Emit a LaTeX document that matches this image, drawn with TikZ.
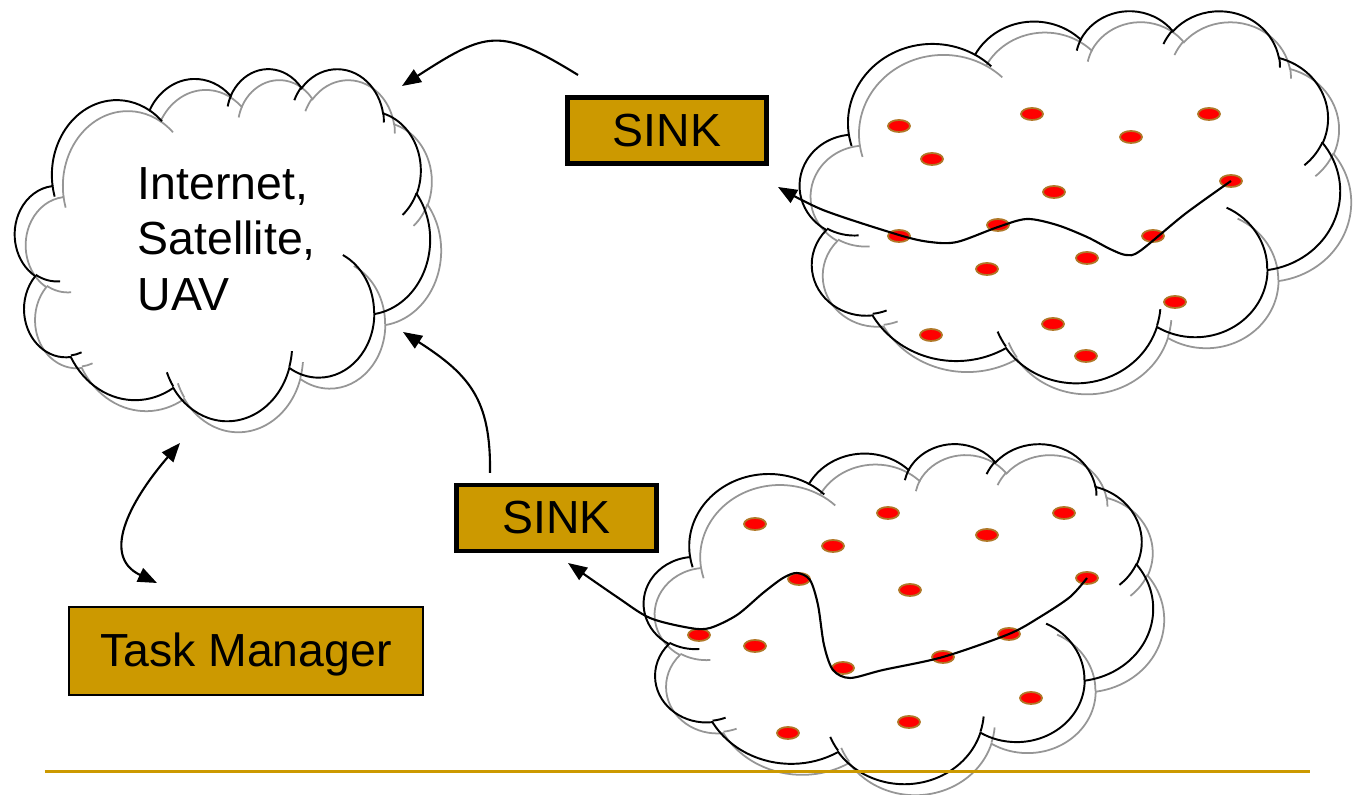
\documentclass[tikz,border=0pt]{standalone}
\usepackage{fontspec}
\setmainfont{Liberation Sans}
\usetikzlibrary{arrows.meta,shapes.geometric}

\definecolor{sinkgold}{RGB}{204,153,0}
\definecolor{shadowgrey}{RGB}{150,150,150}
\definecolor{dotrim}{RGB}{176,120,40}

\newcommand\labelfont{\fontsize{13.2}{15.8}\selectfont}

% visual ellipse angles -> parametric start angle and sweep
\newcommand\cloudangles{%
  \pgfmathparse{atan2(\rw*sin(\st),\rh*cos(\st))}\global\let\cldst\pgfmathresult
  \pgfmathparse{mod(atan2(\rw*sin(\st+\sw),\rh*cos(\st+\sw))-\cldst+720,360)}%
  \global\let\cldsw\pgfmathresult}

% cloud outline in a 432 x 432 box, y pointing down
\newcommand\cloudpath[1]{%
  \draw[#1] (39,143.7)
    \foreach \rw/\rh/\st/\sw in {67.53/91.90/-190.4875/123.7805,
        53.33/72.67/-144.1024/89.9452, 43.65/59.45/-145.8079/99.7230,
        48.57/65.95/-130.9861/117.2417, 53.33/72.73/-78.7089/109.0269,
        67.75/92.20/-46.2673/130.2690, 57.85/78.67/0.6250/114.0333,
        67.52/92.15/22.4516/115.1726, 77.20/105.43/66.2426/75.7110,
        43.60/59.18/-274.9421/146.7356, 43.45/59.45/-246.8285/152.5189}{
      \pgfextra{\cloudangles}
      arc[x radius=\rw, y radius=\rh, start angle=\cldst, delta angle=\cldsw]
    } -- cycle;
  % inner lobe edges
  \draw[#1]
    \foreach \px/\py/\rw/\rh/\st/\sw in {46.93/261.77/43.45/59.45/86.742/26.4295,
        69.28/348.99/43.60/59.18/73.6105/11.4475,
        164.78/390.90/67.52/92.15/137.6242/14.0811,
        288.27/347.51/67.52/92.15/6.4533/15.9984,
        341.29/229.54/57.85/78.67/-70.2924/70.9174,
        417.98/153.54/53.33/72.73/30.318/27.7515,
        383.24/54.26/48.57/65.95/-13.7443/14.8589,
        290.78/39.52/48.57/65.95/-149.1815/18.1954,
        221.41/47.20/43.65/59.45/-163.4943/17.6864,
        140.00/51.92/67.53/91.90/-66.707/12.3194,
        41.27/157.89/67.53/91.90/157.6544/11.8582}{
      (\px,\py) \pgfextra{\cloudangles}
      arc[x radius=\rw, y radius=\rh, start angle=\cldst, delta angle=\cldsw]
    };
}

% #1,#2 = top left corner, #3 x #4 = size
\newcommand\drawcloud[4]{%
  \begin{scope}[shift={(#1+11,#2+11)},xscale=#3/432,yscale=#4/432]
    \cloudpath{shadowgrey,line width=0.5pt}
  \end{scope}
  \begin{scope}[shift={(#1,#2)},xscale=#3/432,yscale=#4/432]
    \cloudpath{black,line width=0.55pt}
  \end{scope}}

\begin{document}
\begin{tikzpicture}[x=0.01cm,y=-0.01cm,font=\labelfont,
    >={Triangle[length=5.4pt,width=4.2pt]},
    sinkbox/.style={draw,line width=1.4pt,fill=sinkgold,inner sep=0pt,
      text height=0.32cm,text depth=0pt,
      minimum width=1.99cm,minimum height=0.66cm},
    taskbox/.style={draw,line width=0.6pt,fill=sinkgold,inner sep=0pt,
      text height=0.32cm,text depth=0pt,
      minimum width=3.54cm,minimum height=0.88cm},
    dot/.style={ellipse,draw=dotrim,fill=red,line width=0.5pt,inner sep=0pt,
      minimum width=0.22cm,minimum height=0.12cm},
    link/.style={->,line width=0.6pt}]
  \useasboundingbox[fill=white] (0,0) rectangle (1356,795);

  % clouds
  \drawcloud{15}{68}{415}{352}
  \drawcloud{800}{10}{540}{372}
  \drawcloud{644}{443}{509}{340}

  \node[anchor=west,align=left,inner sep=0pt] (net) at (137,239)
    {Internet,\\Satellite,\\UAV};

  % sensor nodes
  \foreach \x/\y [count=\i] in {899/126,1032/114,1209/114,1131/137,932/159,
      1054/192,1231/181,998/225,899/236,1153/236,1087/258,987/269,1175/302,
      931/335,1053/324,1086/356}
    \node[dot] (a\i) at (\x,\y) {};
  \foreach \x/\y [count=\i] in {755/524,888/513,1064/513,987/535,833/546,
      910/590,1087/578,799/579,699/635,755/646,1009/634,943/657,843/668,
      1031/698,909/722,788/733}
    \node[dot] (b\i) at (\x,\y) {};

  % sinks and task manager
  \node[sinkbox] (sinkT) at (667,130.5) {SINK};
  \node[sinkbox] (sinkB) at (556.5,518) {SINK};
  \node[taskbox] (task) at (246,651) {Task Manager};

  \coordinate (upT) at (578,75);
  \coordinate (netT) at (402,86);
  \coordinate (upB) at (490,473);
  \coordinate (netB) at (403,332);
  \coordinate (netC) at (180,443);
  \coordinate (taskC) at (157,583);
  \coordinate (inT) at (778,187);
  \coordinate (inB) at (568,563);

  % multihop paths to the sinks
  \draw[link] plot[smooth,tension=0.5] coordinates {(a7.center) (1185,214)
    (1140,251) (1126,255) (1110,249) (1087,237) (1057,225) (1027,219)
    (998,227) (957,242) (930,242) (899,235) (823,210) (inT)};
  \draw[link] plot[smooth,tension=0.5] coordinates {(b7.center) (1070,597)
    (1040,617) (1009,634) (943,657) (883,670) (850,678) (833,670) (824,645)
    (818,605) (810,580) (797,573) (783,578) (763,593) (737,615) (710,628)
    (690,628) (650,618) (617,597) (inB)};

  % sinks to the internet
  \draw[link] (upT) .. controls (500,27) and (487,31) .. (netT);
  \draw[link] (upB) .. controls (491,400) and (470,375) .. (netB);
  \draw[<->,line width=0.6pt] (netC) .. controls (135,495) and (98,555) .. (taskC);

  \draw[sinkgold,line width=0.9pt] (45,771.5) -- (1310,771.5);
\end{tikzpicture}
\end{document}
